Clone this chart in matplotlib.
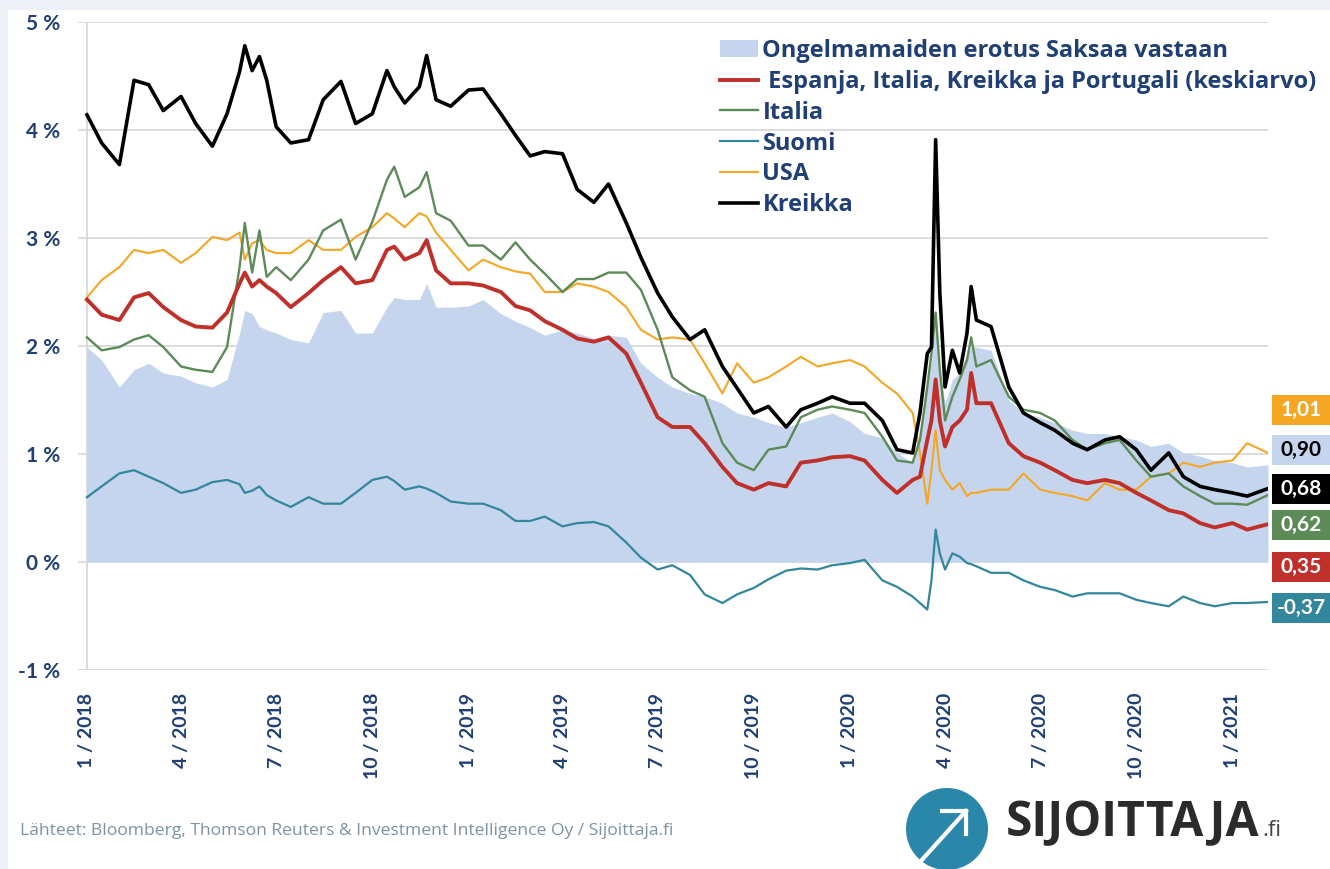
import numpy as np
import pandas as pd
import matplotlib
matplotlib.use("Agg")
import matplotlib.pyplot as plt
import matplotlib.dates as mdates
from matplotlib.patches import Circle, Rectangle

# puolikuukausittaiset lukemat kuvasta (maaliskuu 2020 tiheämmin)
dates = ["2018-01-01", "2018-01-15", "2018-02-01", "2018-02-15", "2018-03-01", "2018-03-15",
         "2018-04-01", "2018-04-15", "2018-05-01", "2018-05-15", "2018-05-27", "2018-06-01",
         "2018-06-08", "2018-06-15", "2018-06-22", "2018-07-01", "2018-07-15", "2018-08-01",
         "2018-08-15", "2018-09-01", "2018-09-15", "2018-10-01", "2018-10-15", "2018-10-22",
         "2018-11-01", "2018-11-15", "2018-11-22", "2018-12-01", "2018-12-15", "2019-01-01",
         "2019-01-15", "2019-02-01", "2019-02-15", "2019-03-01", "2019-03-15", "2019-04-01",
         "2019-04-15", "2019-05-01", "2019-05-15", "2019-06-01", "2019-06-15", "2019-07-01",
         "2019-07-15", "2019-08-01", "2019-08-15", "2019-09-01", "2019-09-15", "2019-10-01",
         "2019-10-15", "2019-11-01", "2019-11-15", "2019-12-01", "2019-12-15", "2020-01-01",
         "2020-01-15", "2020-02-01", "2020-02-15", "2020-03-01", "2020-03-08", "2020-03-15",
         "2020-03-19", "2020-03-23", "2020-03-27", "2020-04-01", "2020-04-08", "2020-04-15",
         "2020-04-22", "2020-04-26", "2020-05-01", "2020-05-15", "2020-06-01", "2020-06-15",
         "2020-07-01", "2020-07-15", "2020-08-01", "2020-08-15", "2020-09-01", "2020-09-15",
         "2020-10-01", "2020-10-15", "2020-11-01", "2020-11-15", "2020-12-01", "2020-12-15",
         "2021-01-01", "2021-01-15", "2021-02-04"]

erotus = [1.99, 1.87, 1.62, 1.78, 1.84, 1.75, 1.72, 1.66, 1.62, 1.69, 2.12, 2.33,
          2.30, 2.18, 2.15, 2.12, 2.06, 2.03, 2.31, 2.33, 2.12, 2.12, 2.36, 2.45,
          2.43, 2.43, 2.58, 2.36, 2.36, 2.37, 2.43, 2.30, 2.23, 2.17, 2.10, 2.15,
          2.12, 2.07, 2.10, 2.08, 1.84, 1.71, 1.62, 1.56, 1.53, 1.47, 1.38, 1.34,
          1.29, 1.25, 1.29, 1.34, 1.38, 1.30, 1.19, 1.15, 1.01, 0.92, 1.16, 1.62,
          1.87, 2.24, 1.78, 1.47, 1.69, 1.75, 1.93, 1.99, 1.99, 1.96, 1.50, 1.38,
          1.34, 1.29, 1.22, 1.19, 1.19, 1.16, 1.13, 1.07, 1.10, 1.01, 0.98, 0.94,
          0.92, 0.88, 0.90]

keskiarvo = [2.43, 2.29, 2.24, 2.45, 2.49, 2.36, 2.24, 2.18, 2.17, 2.31, 2.58, 2.68,
             2.55, 2.61, 2.55, 2.49, 2.36, 2.49, 2.61, 2.73, 2.58, 2.61, 2.89, 2.92,
             2.80, 2.86, 2.98, 2.70, 2.58, 2.58, 2.56, 2.50, 2.37, 2.33, 2.23, 2.15,
             2.07, 2.04, 2.08, 1.93, 1.66, 1.34, 1.25, 1.25, 1.10, 0.88, 0.73, 0.67,
             0.73, 0.70, 0.92, 0.94, 0.97, 0.98, 0.94, 0.76, 0.64, 0.76, 0.79, 1.13,
             1.31, 1.69, 1.31, 1.07, 1.25, 1.31, 1.41, 1.75, 1.47, 1.47, 1.10, 0.98,
             0.92, 0.85, 0.76, 0.73, 0.76, 0.73, 0.64, 0.57, 0.48, 0.45, 0.36, 0.32,
             0.36, 0.30, 0.35]

italia = [2.08, 1.96, 1.99, 2.06, 2.10, 1.99, 1.81, 1.78, 1.76, 1.99, 2.73, 3.14,
          2.68, 3.07, 2.64, 2.73, 2.61, 2.80, 3.07, 3.17, 2.80, 3.15, 3.54, 3.66,
          3.38, 3.47, 3.61, 3.23, 3.16, 2.93, 2.93, 2.80, 2.96, 2.80, 2.67, 2.50,
          2.62, 2.62, 2.68, 2.68, 2.52, 2.15, 1.71, 1.59, 1.53, 1.10, 0.92, 0.85,
          1.04, 1.07, 1.34, 1.41, 1.44, 1.41, 1.38, 1.16, 0.94, 0.92, 1.13, 1.62,
          1.93, 2.31, 1.78, 1.31, 1.53, 1.69, 1.87, 2.08, 1.81, 1.87, 1.53, 1.41,
          1.38, 1.31, 1.13, 1.04, 1.10, 1.13, 0.94, 0.79, 0.82, 0.70, 0.61, 0.54,
          0.54, 0.53, 0.62]

suomi = [0.60, 0.70, 0.82, 0.85, 0.79, 0.73, 0.64, 0.67, 0.74, 0.76, 0.72, 0.64,
         0.66, 0.70, 0.62, 0.57, 0.51, 0.60, 0.54, 0.54, 0.64, 0.76, 0.79, 0.75,
         0.67, 0.70, 0.68, 0.64, 0.56, 0.54, 0.54, 0.48, 0.38, 0.38, 0.42, 0.33,
         0.36, 0.37, 0.33, 0.18, 0.04, -0.07, -0.03, -0.12, -0.30, -0.38, -0.30, -0.24,
         -0.16, -0.08, -0.06, -0.07, -0.03, -0.01, 0.02, -0.17, -0.23, -0.32, -0.38, -0.44,
         -0.17, 0.30, 0.08, -0.07, 0.08, 0.05, -0.01, -0.02, -0.04, -0.10, -0.10, -0.17,
         -0.23, -0.26, -0.32, -0.29, -0.29, -0.29, -0.35, -0.38, -0.41, -0.32, -0.38, -0.41,
         -0.38, -0.38, -0.37]

usa = [2.45, 2.61, 2.73, 2.89, 2.86, 2.89, 2.77, 2.86, 3.01, 2.98, 3.05, 2.80,
       2.95, 2.98, 2.89, 2.86, 2.86, 2.98, 2.89, 2.89, 3.01, 3.10, 3.23, 3.18,
       3.10, 3.23, 3.20, 3.05, 2.89, 2.70, 2.80, 2.73, 2.69, 2.67, 2.50, 2.50,
       2.58, 2.55, 2.50, 2.36, 2.15, 2.06, 2.08, 2.06, 1.84, 1.56, 1.84, 1.66,
       1.71, 1.81, 1.90, 1.81, 1.84, 1.87, 1.81, 1.66, 1.56, 1.38, 1.01, 0.54,
       0.85, 1.22, 0.85, 0.76, 0.67, 0.73, 0.61, 0.64, 0.64, 0.67, 0.67, 0.82,
       0.67, 0.64, 0.61, 0.57, 0.73, 0.67, 0.67, 0.79, 0.82, 0.92, 0.88, 0.92,
       0.94, 1.10, 1.01]

kreikka = [4.14, 3.88, 3.68, 4.46, 4.42, 4.18, 4.31, 4.06, 3.85, 4.15, 4.54, 4.78,
           4.55, 4.68, 4.46, 4.03, 3.88, 3.91, 4.28, 4.45, 4.06, 4.15, 4.55, 4.40,
           4.25, 4.40, 4.69, 4.28, 4.22, 4.37, 4.38, 4.15, 3.95, 3.76, 3.80, 3.78,
           3.45, 3.33, 3.50, 3.14, 2.82, 2.49, 2.27, 2.06, 2.15, 1.81, 1.61, 1.38,
           1.44, 1.25, 1.41, 1.47, 1.53, 1.47, 1.47, 1.31, 1.04, 1.01, 1.38, 1.93,
           1.99, 3.91, 2.49, 1.62, 1.96, 1.75, 2.12, 2.55, 2.24, 2.18, 1.62, 1.38,
           1.29, 1.22, 1.10, 1.04, 1.13, 1.16, 1.04, 0.85, 1.01, 0.79, 0.70, 0.67,
           0.64, 0.61, 0.68]

labels = ["Ongelmamaiden erotus Saksaa vastaan",
          " Espanja, Italia, Kreikka ja Portugali (keskiarvo)",
          "Italia", "Suomi", "USA", "Kreikka"]

x = pd.to_datetime(dates)

c_area = "#C5D5EE"
c_red = "#C0302A"
c_green = "#5C8B58"
c_teal = "#33879C"
c_orange = "#F5A623"
c_black = "#000000"
c_text = "#1F3F75"

plt.rcParams["font.family"] = ["Lato", "DejaVu Sans"]
wide = ["Open Sans", "DejaVu Sans"]

fig = plt.figure(figsize=(13.3, 8.69), dpi=100, facecolor="#EDF1F6")
fig.patches.append(Rectangle((8 / 1330, 0), 1, 1 - 10 / 869, transform=fig.transFigure,
                             facecolor="white", edgecolor="none", zorder=-10))
ax = fig.add_axes([78 / 1330, 1 - 670 / 869, 1190 / 1330, 648 / 869])
ax.set_facecolor("none")

h_area = ax.fill_between(x, 0, erotus, color=c_area, linewidth=0, zorder=1, label=labels[0])
h_suomi, = ax.plot(x, suomi, color=c_teal, lw=1.6, zorder=3, label=labels[3])
h_usa, = ax.plot(x, usa, color=c_orange, lw=1.5, zorder=3, label=labels[4])
h_ita, = ax.plot(x, italia, color=c_green, lw=1.7, zorder=4, label=labels[2])
h_avg, = ax.plot(x, keskiarvo, color=c_red, lw=2.8, zorder=5, label=labels[1])
h_gr, = ax.plot(x, kreikka, color=c_black, lw=2.6, zorder=6, label=labels[5])

start = pd.Timestamp("2018-01-01")
ax.set_xlim(start - pd.Timedelta(days=8.6), x[-1])
ax.set_ylim(-1, 5)
ax.axvline(start, color="#D9D9D9", lw=1.3, zorder=0)

ax.set_yticks(range(-1, 6))
ax.set_yticklabels([f"{v} %" for v in range(-1, 6)])
ax.grid(axis="y", color="#D9D9D9", lw=1.3, zorder=0)
ax.set_axisbelow(True)

qticks = pd.date_range("2018-01-01", "2021-01-01", freq="QS")
ax.set_xticks(qticks)
ax.set_xticklabels([f"{d.month} / {d.year}" for d in qticks], rotation=90)

for s in ax.spines.values():
    s.set_visible(False)
ax.tick_params(axis="x", length=0, pad=16.5, labelsize=14, labelcolor=c_text)
ax.tick_params(axis="y", length=0, pad=13, labelsize=15, labelcolor=c_text)
for t in ax.get_xticklabels() + ax.get_yticklabels():
    t.set_fontweight("bold")

leg = ax.legend(handles=[h_area, h_avg, h_ita, h_suomi, h_usa, h_gr],
                loc="upper left", bbox_to_anchor=(720 / 1330, 1 - 39 / 869),
                bbox_transform=fig.transFigure, frameon=False,
                prop={"family": wide, "weight": "bold", "size": 17},
                handlelength=1.6, handletextpad=0.2, labelspacing=0.29,
                borderpad=0, borderaxespad=0)
for t in leg.get_texts():
    t.set_color(c_text)

# loppuarvojen laatikot oikealla
last_vals = [usa[-1], erotus[-1], kreikka[-1], italia[-1], keskiarvo[-1], suomi[-1]]
box_cols = [c_orange, c_area, c_black, c_green, c_red, c_teal]
txt_cols = ["white", "black", "white", "white", "white", "white"]
box_y = [410, 450, 489, 525, 567, 608]
for v, bc, tc, yc in zip(last_vals, box_cols, txt_cols, box_y):
    fig.patches.append(Rectangle((1272 / 1330, 1 - (yc + 15) / 869), 60 / 1330, 30 / 869,
                                 transform=fig.transFigure, facecolor=bc, edgecolor="none"))
    fig.text(1301 / 1330, 1 - yc / 869, f"{v:.2f}".replace(".", ","), color=tc,
             fontsize=15, fontweight="bold", ha="center", va="center")

fig.text(20 / 1330, 1 - 831 / 869,
         "Lähteet: Bloomberg, Thomson Reuters & Investment Intelligence Oy / Sijoittaja.fi",
         color="#7C93A6", fontsize=12.6, family=wide, ha="left", va="center")

# logo
tr = fig.dpi_scale_trans
fig.patches.append(Circle((9.47, (869 - 829) / 100), 0.41, transform=tr,
                          facecolor="#2A87AA", edgecolor="none"))
fig.lines.append(plt.Line2D([9.20, 9.66], [(869 - 862) / 100, (869 - 811) / 100],
                            transform=tr, color="white", lw=3))
fig.lines.append(plt.Line2D([9.42, 9.66, 9.66], [(869 - 811) / 100, (869 - 811) / 100,
                                                 (869 - 834) / 100],
                            transform=tr, color="white", lw=3, solid_joinstyle="miter"))
fig.text(1006 / 1330, 1 - 836 / 869, "SIJOITTAJA", color="#2B2B2B", fontsize=34.5,
         fontweight="bold", family=wide, ha="left", va="baseline")
fig.text(1262 / 1330, 1 - 836 / 869, ".fi", color="#444444", fontsize=16,
         family=wide, ha="left", va="baseline")

fig.savefig("out.png", dpi=100, facecolor=fig.get_facecolor())
